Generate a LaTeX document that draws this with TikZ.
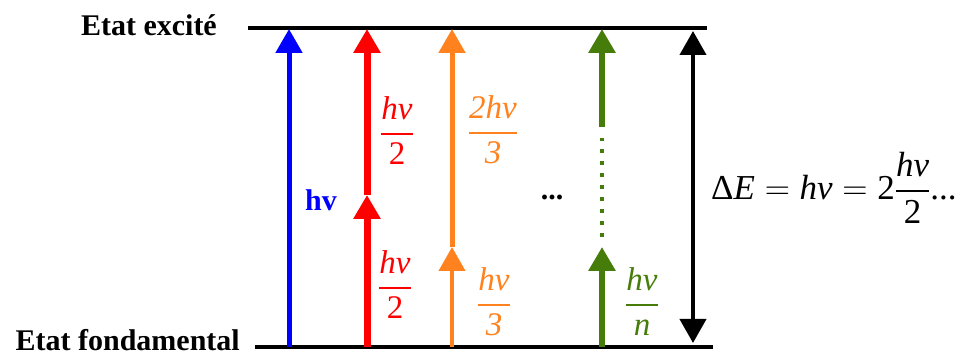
\RequirePackage{fix-cm}
\documentclass[tikz,border=0pt]{standalone}
\usepackage{fontspec}
\setmainfont{Liberation Serif}
\usetikzlibrary{arrows.meta}
\definecolor{cblue}{RGB}{0,0,255}
\definecolor{cred}{RGB}{255,0,0}
\definecolor{corange}{RGB}{255,130,30}
\definecolor{cgreen}{RGB}{70,125,10}
\newcommand\myfrac[2]{{\textit{#1}\above 1.6pt #2}}
\newcommand\fr[2]{$\displaystyle\myfrac{#1}{#2}$}
\begin{document}
\begin{tikzpicture}[x=1pt,y=1pt,
  levelline/.style={line width=4pt,black},
  uparrow/.style={-{Triangle[width=26pt,length=24pt]}},
  lbl/.style={font=\fontsize{30}{36}\selectfont\bfseries},
  fraclbl/.style={font=\fontsize{33}{38}\selectfont,inner sep=0pt}]
\useasboundingbox (0,0) rectangle (959,352);
% levels
\coordinate (tl) at (248,324);
\coordinate (tr) at (707,324);
\coordinate (bl) at (255,4.5);
\coordinate (br) at (713,4.5);
\draw[levelline] (tl) -- (tr);
\draw[levelline] (bl) -- (br);
\node[lbl,anchor=base east,inner sep=0pt] (exc) at (217,316) {Etat excité};
\node[lbl,anchor=base east,inner sep=0pt] (fond) at (240,1.5) {Etat fondamental};
% blue
\coordinate (b0) at (289,4.5);
\coordinate (b1) at (289,323);
\draw[uparrow,cblue,line width=5pt] (b0) -- (b1);
\node[lbl,cblue,anchor=base west,inner sep=0pt] (hvb) at (305,141) {hv};
% red
\coordinate (r0) at (367,4.5);
\coordinate (r1) at (367,157);
\coordinate (r2) at (367,323);
\draw[uparrow,cred,line width=7pt] (r0) -- (r1);
\draw[uparrow,cred,line width=7pt] (r1) -- (r2);
\node[fraclbl,cred] (fr1) at (397,221) {\fr{hv}{\textrm{2}}};
\node[fraclbl,cred] (fr2) at (395,67) {\fr{hv}{\textrm{2}}};
% orange
\coordinate (o0) at (452,4.5);
\coordinate (o1) at (452,105);
\coordinate (o2) at (452,323);
\draw[uparrow,corange,line width=4pt] (o0) -- (o1);
\draw[uparrow,corange,line width=5pt] (o1) -- (o2);
\node[fraclbl,corange] (fo1) at (493,222) {\fr{2hv}{\textit{3}}};
\node[fraclbl,corange] (fo2) at (494,50) {\fr{hv}{\textit{3}}};
% dots
\node[font=\fontsize{30}{36}\selectfont\bfseries,inner sep=0pt] (dots) at (552,154) {...};
% green
\coordinate (g0) at (602,4.5);
\coordinate (g1) at (602,105);
\coordinate (g2) at (602,115);
\coordinate (g3) at (602,214);
\coordinate (g4) at (602,225);
\coordinate (g5) at (602,323);
\draw[uparrow,cgreen,line width=6pt] (g0) -- (g1);
\draw[cgreen,line width=4pt,dash pattern=on 4pt off 8pt] (g2) -- (g3);
\draw[uparrow,cgreen,line width=6pt] (g4) -- (g5);
\node[fraclbl,cgreen] (fg) at (642,50) {\fr{hv}{\textit{n}}};
% black double arrow
\coordinate (k0) at (693,9);
\coordinate (k1) at (693,321);
\draw[{Triangle[width=26pt,length=24pt]}-{Triangle[width=26pt,length=24pt]},line width=4pt] (k0) -- (k1);
\node[fraclbl,anchor=west,font=\fontsize{35}{40}\selectfont] (eq) at (711,164) {$\displaystyle \textrm{Δ}\textit{E}=\textit{hv}=\textrm{2}\myfrac{hv}{\textrm{2}}$...};
\end{tikzpicture}
\end{document}
